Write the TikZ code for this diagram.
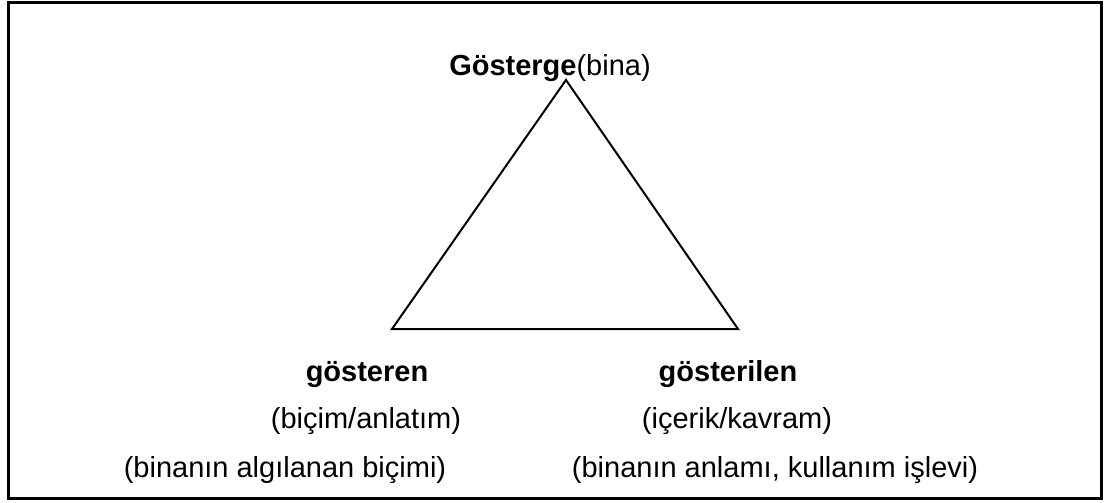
\documentclass[tikz,border=0pt]{standalone}
\usepackage{fontspec}
\setmainfont{Liberation Sans}
\begin{document}
\begin{tikzpicture}[x=1pt,y=-1pt,
  lbl/.style={inner sep=0pt,anchor=base,font=\fontsize{29}{34}\selectfont},
  edge/.style={line width=2pt,line join=miter}]
\useasboundingbox (0,0) rectangle (1105,503);
\draw[line width=3pt] (8,2.5) rectangle (1101.5,498.5);
\coordinate (top) at (566,80);
\coordinate (bl) at (392,329);
\coordinate (br) at (738,329);
\draw[edge] (top) -- (bl) -- (br) -- cycle;
\node[lbl] (g) at (550,75) {\textbf{Gösterge}(bina)};
\node[lbl] (s1) at (367,381) {\textbf{gösteren}};
\node[lbl] (s2) at (366,428) {(biçim/anlatım)};
\node[lbl] (s3) at (285,477) {(binanın algılanan biçimi)};
\node[lbl] (d1) at (728,381) {\textbf{gösterilen}};
\node[lbl] (d2) at (737,428) {(içerik/kavram)};
\node[lbl] (d3) at (775,477) {(binanın anlamı, kullanım işlevi)};
\end{tikzpicture}
\end{document}
